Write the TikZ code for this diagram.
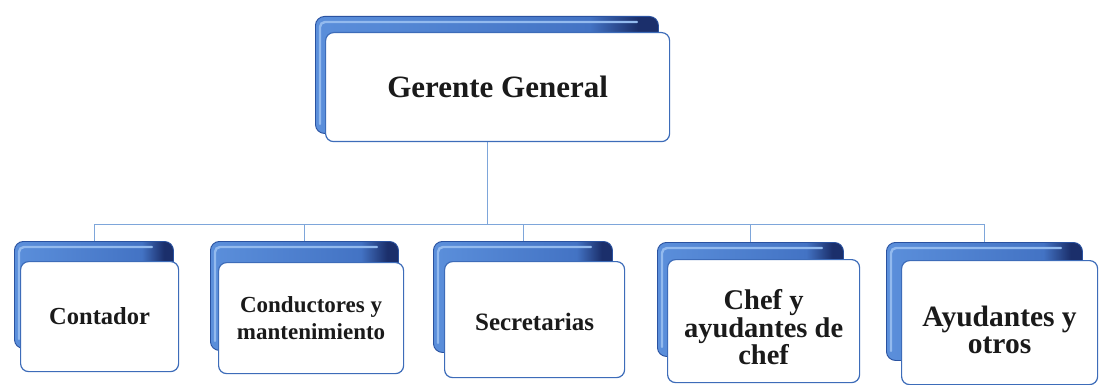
\documentclass[tikz,border=0pt]{standalone}
\usepackage{fontspec}
\setmainfont{Liberation Serif}
\usetikzlibrary{calc}
\definecolor{tabA}{HTML}{5B8FDB}
\definecolor{tabB}{HTML}{4373C4}
\definecolor{tabC}{HTML}{1B2F6B}
\definecolor{tabEdge}{HTML}{2A52A0}
\definecolor{tabHi}{HTML}{93BAEE}
\definecolor{boxEdge}{HTML}{3D6CB9}
\definecolor{linkC}{HTML}{7EA6DA}
\definecolor{txt}{HTML}{1A1A1A}
\pgfdeclarehorizontalshading{tabshade}{100bp}{color(0bp)=(tabA); color(25bp)=(tabA); color(65bp)=(tabB); color(72bp)=(tabC); color(75bp)=(tabC); color(100bp)=(tabC)}
\tikzset{
  tabback/.style={shape=rectangle, rounded corners=9pt, draw=tabEdge, line width=0.9pt, shade, shading=tabshade, anchor=north west, inner sep=0pt},
  tabhi/.style={draw=tabHi, line width=2.4pt, rounded corners=5pt, line cap=round},
  card/.style={shape=rectangle, rounded corners=8pt, draw=boxEdge, line width=1.2pt, fill=white, anchor=north west, inner sep=0pt, align=center, text=txt, font=\bfseries},
  link/.style={draw=linkC, line width=0.9pt},
}
\begin{document}
\begin{tikzpicture}[x=1pt,y=-1pt]
\useasboundingbox (0,0) rectangle (1101,385);
\fill[white] (0,0) rectangle (1101,385);
\coordinate (bus) at (0,224);
\coordinate (ggbot) at (0,141);
% backs
\node[tabback, minimum width=343pt, minimum height=117pt] (ggb) at (315,16) {};
\node[tabback, minimum width=159pt, minimum height=107pt] (b1) at (14,241) {};
\node[tabback, minimum width=188pt, minimum height=109pt] (b2) at (210,241) {};
\node[tabback, minimum width=179pt, minimum height=111pt] (b3) at (433,241) {};
\node[tabback, minimum width=186pt, minimum height=114pt] (b4) at (657,242) {};
\node[tabback, minimum width=196pt, minimum height=118pt] (b5) at (886,242) {};
\foreach \b in {ggb,b1,b2,b3,b4,b5}{
  \draw[tabhi] ($(\b.south west)+(5,-10)$) -- ($(\b.north west)+(5,6)$) -- ($(\b.north east)+(-22,6)$);
}
% connectors
\draw[link] (ggb.center |- bus) -- (ggb.center |- ggbot);
\draw[link] (b1.north |- bus) -- (b5.north |- bus);
\foreach \b in {b1,b2,b3,b4,b5}{
  \draw[link] (\b.north |- bus) -- (\b.north);
}
% cards
\node[card, minimum width=344pt, minimum height=109pt, font=\bfseries\fontsize{31}{36}\selectfont] (gg) at (325,32) {Gerente General};
\node[card, minimum width=158pt, minimum height=110pt, font=\bfseries\fontsize{24.5}{28}\selectfont] (c1) at (20,261) {Contador};
\node[card, minimum width=185pt, minimum height=111pt, font=\bfseries\fontsize{23}{27}\selectfont] (c2) at (218,262) {Conductores y\\mantenimiento};
\node[card, minimum width=180pt, minimum height=116pt, font=\bfseries\fontsize{25}{28}\selectfont] (c3) at (444,261) {\rule{0pt}{22pt}Secretarias};
\node[card, minimum width=192pt, minimum height=123pt, font=\bfseries\fontsize{28.5}{27.5}\selectfont] (c4) at (667,259) {\rule{0pt}{33pt}Chef y\\ayudantes de\\chef};
\node[card, minimum width=196pt, minimum height=124pt, font=\bfseries\fontsize{29.5}{27}\selectfont] (c5) at (901,260) {\rule{0pt}{35pt}Ayudantes y\\otros};
\end{tikzpicture}
\end{document}
